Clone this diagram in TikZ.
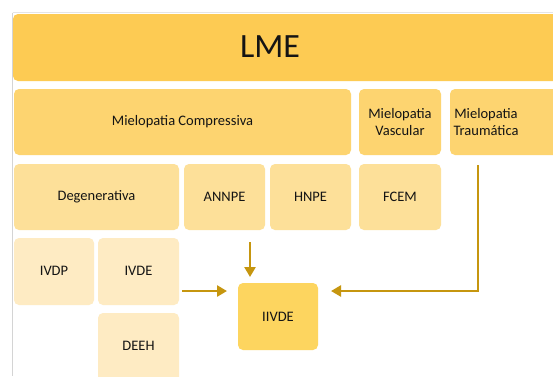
\documentclass[tikz,border=0pt]{standalone}
\usepackage{fontspec}
\setmainfont{Carlito}
\usetikzlibrary{arrows.meta}
\definecolor{cTop}{HTML}{FDCB53}
\definecolor{cTwo}{HTML}{FDD470}
\definecolor{cThree}{HTML}{FDE099}
\definecolor{cFour}{HTML}{FEEBC3}
\definecolor{cTarget}{HTML}{FDD55F}
\definecolor{cArrow}{HTML}{C6960F}
\definecolor{cFrame}{HTML}{D4D4D4}
\tikzset{
  box/.style={anchor=north west, inner sep=0pt, outer sep=0pt, rounded corners=5pt, draw=none},
  lbl/.style={font=\fontsize{14.5}{17.5}\selectfont, text=black!92, align=center, inner sep=0pt},
  conn/.style={draw=cArrow, line width=2.8pt, -{Triangle[length=10pt,width=11pt]}},
}
\begin{document}
\begin{tikzpicture}[x=1pt,y=-1pt]
\useasboundingbox (0,0) rectangle (553,376);
\clip (0,0) rectangle (553,376);
\fill[white] (0,0) rectangle (553,376);
% frame lines
\draw[cFrame, line width=0.6pt] (12.5,12.5) -- (12.5,376);
\draw[cFrame!60, line width=0.4pt] (12.5,12.5) -- (553,12.5);
% boxes
\node[box, fill=cTop, minimum width=560pt, minimum height=67pt] (lme) at (13,14) {};
\node[lbl, font=\fontsize{34}{40}\selectfont] (lmet) at (270,47) {LME};

\node[box, fill=cTwo, minimum width=337pt, minimum height=66pt] (mc) at (14,89) {};
\node[lbl] (mct) at (182.5,122) {Mielopatia Compressiva};
\node[box, fill=cTwo, minimum width=82pt, minimum height=66pt] (mv) at (359,89) {};
\node[lbl] (mvt) at (400,122) {Mielopatia\\Vascular};
\node[box, fill=cTwo, minimum width=120pt, minimum height=66pt] (mt) at (450,89) {};
\node[lbl] (mtt) at (486,122) {Mielopatia\\Traumática};

\node[box, fill=cThree, minimum width=165pt, minimum height=66pt] (deg) at (14,164) {};
\node[lbl] (degt) at (96.5,197) {Degenerativa};
\node[box, fill=cThree, minimum width=81pt, minimum height=66pt] (annpe) at (184,164) {};
\node[lbl] (annpet) at (224.5,197) {ANNPE};
\node[box, fill=cThree, minimum width=81pt, minimum height=66pt] (hnpe) at (270,164) {};
\node[lbl] (hnpet) at (310.5,197) {HNPE};
\node[box, fill=cThree, minimum width=82pt, minimum height=66pt] (fcem) at (359,164) {};
\node[lbl] (fcemt) at (400,197) {FCEM};

\node[box, fill=cFour, minimum width=80pt, minimum height=67pt] (ivdp) at (14,238) {};
\node[lbl] (ivdpt) at (54,271) {IVDP};
\node[box, fill=cFour, minimum width=81pt, minimum height=67pt] (ivde) at (98,238) {};
\node[lbl] (ivdet) at (138.5,271) {IVDE};
\node[box, fill=cFour, minimum width=81pt, minimum height=70pt] (deeh) at (98,313) {};
\node[lbl] (deeht) at (138.5,346) {DEEH};

\node[box, fill=cTarget, minimum width=80pt, minimum height=67pt] (iivde) at (238,283) {};
\node[lbl] (iivdet) at (278,317) {IIVDE};

% connectors
\coordinate (dnA) at (250,242);
\coordinate (dnB) at (250,277);
\coordinate (rtA) at (182,291);
\coordinate (rtB) at (227,291);
\coordinate (trA) at (478,165);
\coordinate (trB) at (331,291);
\draw[conn] (dnA) -- (dnB);
\draw[conn] (rtA) -- (rtB);
\draw[conn] (trA) |- (trB);
\end{tikzpicture}
\end{document}
